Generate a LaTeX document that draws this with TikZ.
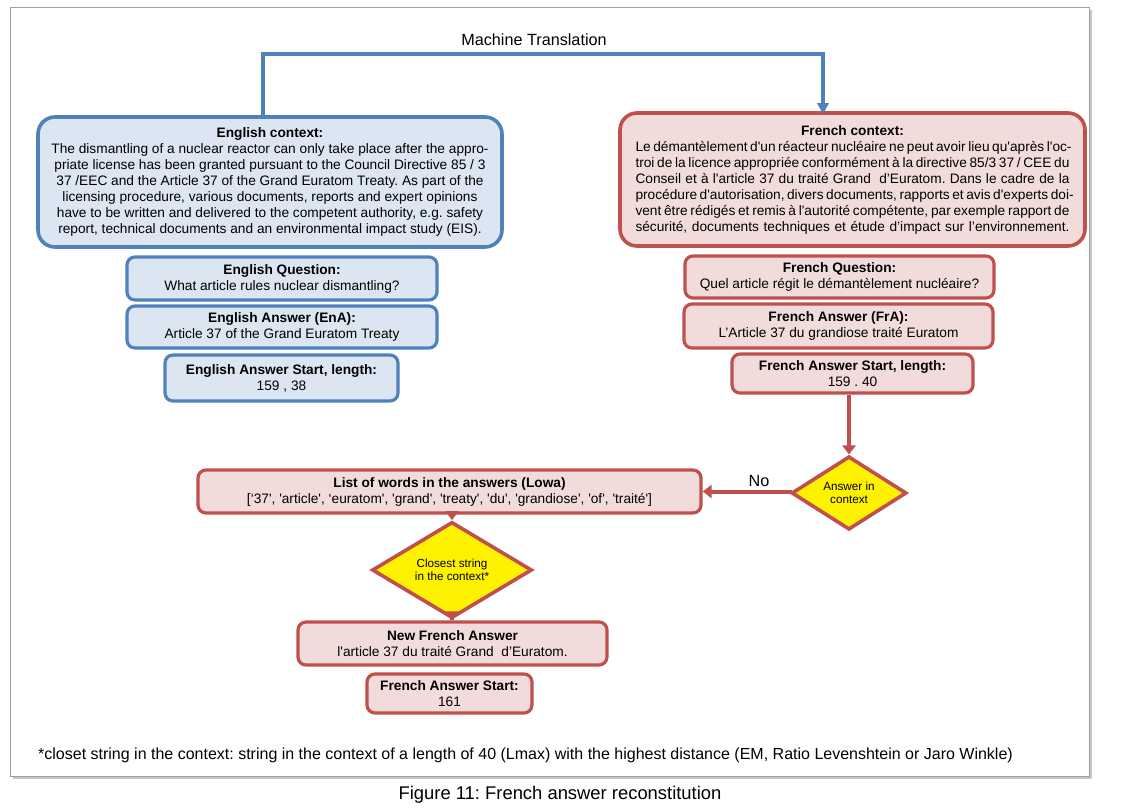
\documentclass[tikz,border=0pt]{standalone}
\usepackage{fontspec}
\setmainfont{Liberation Sans}
\usetikzlibrary{shapes.geometric,arrows.meta}
\definecolor{bbord}{HTML}{4F81BD}
\definecolor{bfill}{HTML}{DCE6F2}
\definecolor{rbord}{HTML}{C0504D}
\definecolor{rfill}{HTML}{F2DCDB}
\newcommand{\tf}{\fontsize{13.7}{16}\selectfont}
\newcommand{\sq}{\textquotesingle}
\newcommand{\jl}[1]{\makebox[434pt][s]{#1}}
\frenchspacing
\begin{document}
\frenchspacing
\begin{tikzpicture}[x=1pt,y=-1pt,
  box/.style={line width=3.2pt, rounded corners=8pt, inner sep=0pt, align=center, font=\tf},
  bluebox/.style={box, draw=bbord, fill=bfill},
  redbox/.style={box, draw=rbord, fill=rfill},
  ctx/.style={rounded corners=17pt, line width=3.6pt},
  dia/.style={diamond, draw=rbord, fill=yellow, line width=3.6pt, inner sep=0pt, align=center, font=\fontsize{11.7}{13.5}\selectfont},
  rarrow/.style={draw=rbord, line width=4pt, -{Triangle[width=13pt,length=9pt]}},
  barrow/.style={draw=bbord, line width=3.5pt, -{Triangle[width=11pt,length=11pt]}},
  lbl/.style={inner sep=0pt, font=\fontsize{16.2}{18}\selectfont}
]
\useasboundingbox (0,0) rectangle (1124,811);
\fill[white] (0,0) rectangle (1124,811);
% frame
\draw[gray!45, line width=2pt] (13,778) -- (1091,778) -- (1091,10);
\draw[gray!75, line width=1pt] (10,7) rectangle (1089,776);

% English side
\node[bluebox, ctx, minimum width=464, minimum height=130] (ec) at (270,182)
 {\textbf{English context:}\\
 The dismantling of a nuclear reactor can only take place after the appro-\\
 priate license has been granted pursuant to the Council Directive 85 / 3\\
 37 /EEC and the Article 37 of the Grand Euratom Treaty. As part of the\\
 licensing procedure, various documents, reports and expert opinions\\
 have to be written and delivered to the competent authority, e.g. safety\\
 report, technical documents and an environmental impact study (EIS).};
\node[bluebox, minimum width=310, minimum height=43] (eq) at (282,278.5)
 {\textbf{English Question:}\\What article rules nuclear dismantling?};
\node[bluebox, minimum width=310, minimum height=42] (ea) at (282,327)
 {\textbf{English Answer (EnA):}\\Article 37 of the Grand Euratom Treaty};
\node[bluebox, minimum width=233, minimum height=46] (es) at (281.5,378)
 {\textbf{English Answer Start, length:}\\159 , 38};

% French side
\node[redbox, ctx, minimum width=465, minimum height=133] (fc) at (852.5,179.5)
 {\textbf{French context:}\\
 \jl{Le démantèlement d\sq un réacteur nucléaire ne peut avoir lieu qu\sq après l\sq oc-}\\
 \jl{troi de la licence appropriée conformément à la directive 85/3 37 / CEE du}\\
 \jl{Conseil et à l\sq article 37 du traité Grand\ \ d’Euratom. Dans le cadre de la}\\
 \jl{procédure d\sq autorisation, divers documents, rapports et avis d\sq experts doi-}\\
 \jl{vent être rédigés et remis à l\sq autorité compétente, par exemple rapport de}\\
 \jl{sécurité, documents techniques et étude d’impact sur l’environnement.}};
\node[redbox, minimum width=309, minimum height=42] (fq) at (839.5,277)
 {\textbf{French Question:}\\Quel article régit le démantèlement nucléaire?};
\node[redbox, minimum width=309, minimum height=44] (fa) at (838.5,326)
 {\textbf{French Answer (FrA):}\\L’Article 37 du grandiose traité Euratom};
\node[redbox, minimum width=241, minimum height=39] (fs) at (852.5,373.5)
 {\textbf{French Answer Start, length:}\\159 . 40};

\node[dia, minimum width=115, minimum height=62] (d1) at (849,493) {Answer in\\context};
\node[redbox, minimum width=503, minimum height=43] (lowa) at (449.5,491.5)
 {\textbf{List of words in the answers (Lowa)}\\
 {[}‘37\sq, \sq article\sq, ‘euratom\sq, \sq grand\sq, \sq treaty\sq, \sq du\sq, \sq grandiose\sq, \sq of\sq, \sq traité\sq{]}};
\node[dia, minimum width=160, minimum height=74] (d2) at (452,570) {Closest string\\in the context*};
\node[redbox, minimum width=309, minimum height=43] (nfa) at (452.5,643.5)
 {\textbf{New French Answer}\\l\sq article 37 du traité Grand\ \ d’Euratom.};
\node[redbox, minimum width=165, minimum height=39] (fas) at (449.5,693.5)
 {\textbf{French Answer Start:}\\161};

% Machine translation connector
\node[lbl] (mt) at (534,40) {Machine Translation};
\coordinate (mtl) at (263,54);
\coordinate (mtr) at (823,54);
\draw[barrow] (ec.north -| mtl) -- (mtl) -- (mtr) -- ([yshift=-3]fc.north -| mtr);

% red flow
\draw[rarrow] (fs.south -| d1.north) -- (d1.north);
\draw[rarrow] (d1.west) -- (lowa.east -| d1.west) -- (lowa.east);
\node[lbl] (no) at (759,481) {No};
\draw[rarrow] (lowa.south -| d2.north) -- (d2.north);
\draw[rarrow] (d2.south) -- (nfa.north -| d2.south);

% footnote and caption
\node[anchor=west, inner sep=0pt, font=\fontsize{16}{18}\selectfont] (fn) at (38,755)
 {*closet string in the context: string in the context of a length of 40 (Lmax) with the highest distance (EM, Ratio Levenshtein or Jaro Winkle)};
\node[inner sep=0pt, font=\fontsize{18.4}{20}\selectfont] (cap) at (560,795) {Figure 11: French answer reconstitution};
\end{tikzpicture}
\end{document}
